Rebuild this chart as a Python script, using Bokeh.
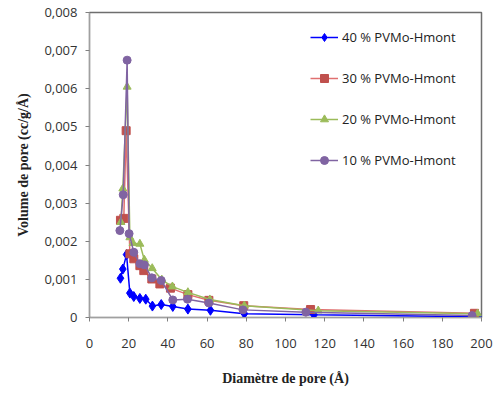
from bokeh.plotting import figure
from bokeh.models import CustomJSTickFormatter, FixedTicker, Legend, LegendItem, Range1d
from bokeh.embed import file_html
from bokeh.resources import INLINE

# Data
x40 = [15.8, 17.0, 18.9, 20.6, 22.6, 25.7, 28.7, 32.1, 36.6, 42.5, 50.2, 61.7, 79.0, 114.5, 198.5]
y40 = [0.00103, 0.00127, 0.00165, 0.00064, 0.00055, 0.00050, 0.00048, 0.00030, 0.00034, 0.00029, 0.00022, 0.00019, 0.00010, 0.00007, 0.00002]

x30 = [15.8, 17.5, 18.7, 20.6, 22.6, 25.7, 27.7, 31.8, 35.9, 41.3, 50.2, 60.9, 78.7, 112.8, 196.4]
y30 = [0.00255, 0.00260, 0.00490, 0.00167, 0.00154, 0.00136, 0.00123, 0.00101, 0.00088, 0.00077, 0.00060, 0.00045, 0.00031, 0.00021, 0.00011]

x20 = [16.0, 17.0, 19.2, 20.6, 22.2, 25.7, 28.0, 32.0, 36.9, 42.3, 50.2, 61.4, 79.0, 116.7, 198.0]
y20 = [0.00250, 0.00338, 0.00605, 0.00210, 0.00195, 0.00193, 0.00151, 0.00129, 0.00099, 0.00081, 0.00066, 0.00047, 0.00031, 0.00018, 0.00010]

x10 = [15.5, 17.2, 19.2, 20.2, 22.6, 25.7, 28.0, 31.8, 36.6, 42.5, 50.0, 60.9, 78.3, 110.4, 195.2]
y10 = [0.00228, 0.00322, 0.00675, 0.00220, 0.00171, 0.00141, 0.00138, 0.00104, 0.00097, 0.00046, 0.00048, 0.00038, 0.00020, 0.00014, 0.00005]

labels = ["40 % PVMo-Hmont", "30 % PVMo-Hmont", "20 % PVMo-Hmont", "10 % PVMo-Hmont"]
x_ticks = [0, 20, 40, 60, 80, 100, 120, 140, 160, 180, 200]
y_ticks = [0, 0.001, 0.002, 0.003, 0.004, 0.005, 0.006, 0.007, 0.008]

p = figure(output_backend="svg", toolbar_location=None,
           frame_width=392, frame_height=305,
           min_border_left=89, min_border_right=13, min_border_top=12, min_border_bottom=79,
           x_range=Range1d(0, 200), y_range=Range1d(0, 0.008))

p.background_fill_color = "white"
p.border_fill_color = "white"
p.grid.visible = False
p.outline_line_color = "#6e6e6e"
p.outline_line_width = 1.5

series = [
    (x40, y40, "#0000FF", "#0000FF", "diamond", 10),
    (x30, y30, "#E07070", "#C0504D", "square", 8),
    (x20, y20, "#9BBB59", "#9BBB59", "triangle", 8),
    (x10, y10, "#8064A2", "#8064A2", "circle", 8),
]
items = []
for (xs, ys, lc, mc, mk, sz), lab in zip(series, labels):
    r1 = p.line(xs, ys, line_color=lc, line_width=1.5)
    r2 = p.scatter(xs, ys, marker=mk, size=sz, fill_color=mc, line_color=mc)
    items.append(LegendItem(label=lab, renderers=[r1, r2]))

legend = Legend(items=items, location=(221, 147), padding=0, margin=0,
                border_line_alpha=0, background_fill_alpha=0,
                glyph_width=28, glyph_height=20, label_height=20,
                spacing=21, label_standoff=4,
                label_text_font="Open Sans", label_text_font_size="13px",
                label_text_color="#222222")
p.add_layout(legend)

fmt = CustomJSTickFormatter(code="return tick === 0 ? '0' : tick.toFixed(3).replace('.', ',');")
p.yaxis.formatter = fmt
p.yaxis.ticker = FixedTicker(ticks=y_ticks)
p.xaxis.ticker = FixedTicker(ticks=x_ticks)

for ax in (p.xaxis[0], p.yaxis[0]):
    ax.axis_line_color = "#a0a0a0"
    ax.major_tick_line_color = "#808080"
    ax.major_tick_in = 0
    ax.major_tick_out = 4
    ax.minor_tick_line_color = None
    ax.major_label_text_font = "Open Sans"
    ax.major_label_text_font_size = "13px"
    ax.major_label_text_color = "#333333"
    ax.axis_label_text_font = "Liberation Serif"
    ax.axis_label_text_font_style = "bold"
    ax.axis_label_text_font_size = "14px"
    ax.axis_label_text_color = "#222222"

p.xaxis.axis_label = "Diamètre de pore (Å)"
p.yaxis.axis_label = "Volume de pore (cc/g/Å)"
p.xaxis.major_label_standoff = 17
p.xaxis.axis_label_standoff = 20
p.yaxis.major_label_standoff = 8
p.yaxis.axis_label_standoff = 10

open("out.html", "w").write(file_html(p, INLINE))
